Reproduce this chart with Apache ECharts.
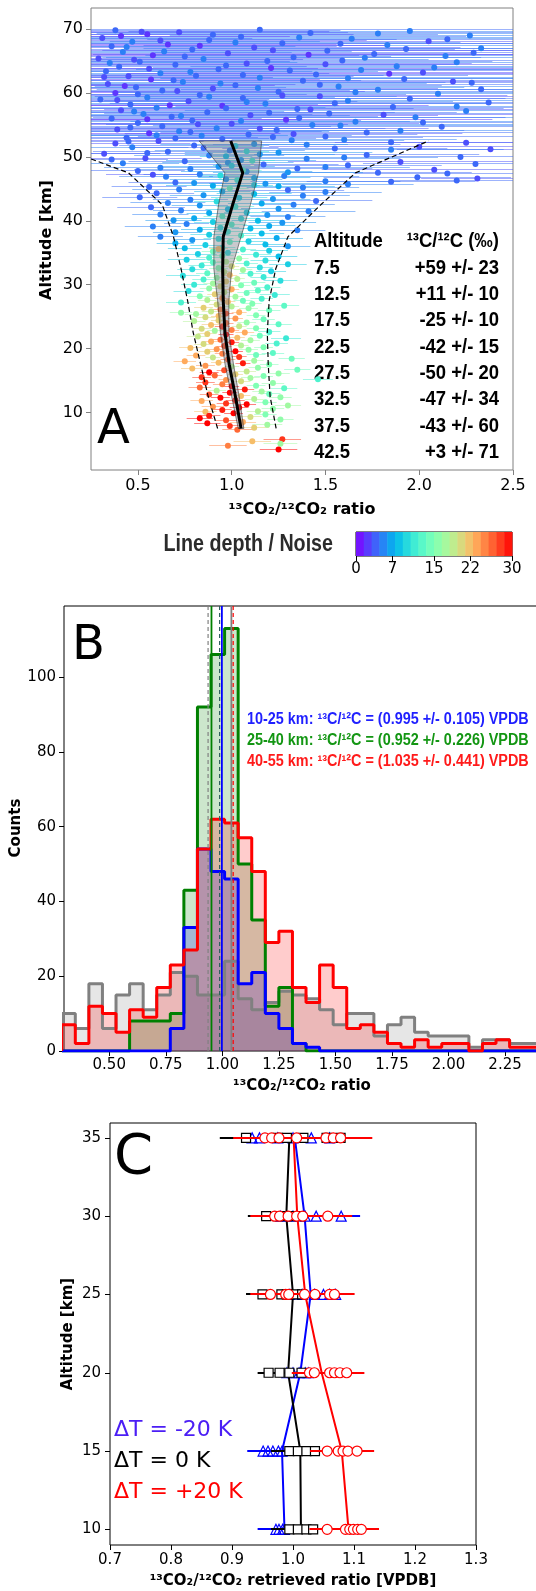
<!DOCTYPE html>
<html>
<head>
<meta charset="utf-8">
<script src="https://cdn.jsdelivr.net/npm/echarts@6.0.0/dist/echarts.min.js"></script>
<style>
  html, body { margin: 0; padding: 0; background: #fff; }
  #chart { width: 536px; height: 1591px; }
</style>
</head>
<body>
<div id="chart"></div>
<script>
// ---------- panel A : retrievals, rows are [altitude km, ratio, error, line depth / noise]
var obsA = [
  [69.8,0.38,1.2,4],[69.7,1.95,1.5,5],[69.5,0.72,0.9,3],[69.4,1.42,1.3,4],[69.2,0.55,1.1,2],[69.0,2.27,1.6,5],
  [68.8,1.05,1.2,4],[68.6,0.31,0.8,3],[68.5,1.64,1.4,5],[68.3,0.88,1.0,4],[68.1,2.05,1.7,3],[68.0,0.47,1.0,5],
  [67.8,1.27,1.5,4],[67.6,0.66,0.9,2],[67.5,1.83,1.3,5],[67.3,0.36,1.2,4],[67.1,1.12,1.1,3],[67.0,2.33,1.8,5],
  [66.8,0.79,1.4,4],[66.6,1.51,1.2,4],[66.4,0.42,0.9,5],[66.2,0.98,1.3,3],[66.1,1.76,1.5,4],[65.9,0.58,1.1,2],
  [65.8,2.14,1.6,5],[65.6,1.33,1.0,4],[65.4,0.29,1.3,3],[65.3,0.85,1.2,5],[65.1,1.59,1.4,4],[64.9,0.51,0.8,4],
  [64.8,2.2,1.7,5],[64.6,1.08,1.2,3],[64.4,0.7,1.5,4],[64.2,1.88,1.1,5],[64.1,0.4,1.0,4],[63.9,1.21,1.3,2],
  [63.7,0.93,1.6,4],[63.6,1.69,1.2,5],[63.4,0.33,1.1,4],[63.2,2.02,1.4,3],[63.1,0.62,0.9,5],[62.9,1.45,1.3,4],
  [62.7,0.81,1.0,4],[62.6,0.45,1.2,3],[62.4,1.15,1.5,5],[62.2,1.92,1.3,4],[62.1,0.57,0.9,2],[61.9,1.38,1.2,4],
  [61.7,0.74,1.4,5],[61.6,2.28,1.7,4],[61.4,0.34,1.0,3],[61.2,1.02,1.1,4],[61.0,1.57,1.3,5],[60.9,0.49,0.8,4],
  [60.7,0.9,1.2,3],[60.5,1.78,1.5,5],[60.4,0.63,1.0,4],[60.2,1.25,1.3,4],[60.0,0.38,0.9,2],[59.9,2.1,1.6,5],
  [59.7,0.83,1.1,4],[59.5,1.47,1.2,3],[59.3,0.55,1.0,5],[59.2,1.06,1.4,4],[59.0,0.3,0.9,4],[58.8,1.62,1.3,5],
  [58.7,0.77,0.9,3],[58.5,2.37,1.6,4],[58.3,1.18,1.2,5],[58.2,0.46,1.0,4],[58.0,0.95,1.1,2],[57.8,1.86,1.4,4],
  [57.7,0.6,0.9,5],[57.5,1.35,1.1,4],[57.3,0.41,0.8,3],[57.2,2.25,1.5,5],[57.0,0.87,1.0,4],[56.8,1.52,1.2,4],
  [56.7,0.53,0.9,5],[56.5,1.1,1.0,3],[56.3,0.68,1.1,4],[56.2,1.98,1.3,5],[56.0,0.36,0.8,4],[55.8,1.29,1.1,2],
  [55.7,0.79,0.9,4],[55.5,1.66,1.2,5],[55.3,0.5,0.8,4],[55.2,1.0,1.0,3],[55.0,1.43,1.1,5],[54.8,0.63,0.9,4],
  [54.7,2.12,1.3,4],[54.5,0.92,0.9,5],[54.3,0.39,0.7,3],[54.2,1.24,1.0,4],[54.0,0.72,0.8,5],[53.8,1.72,1.1,4],
  [53.7,0.56,0.7,2],[53.5,1.09,0.9,4],[53.3,0.84,0.8,5],[53.2,1.5,1.0,4],[53.0,0.44,0.7,4],
  [69.9,1.15,1.4,4],[69.6,0.52,1.0,3],[69.3,1.78,1.5,5],[69.1,0.9,1.2,4],[68.9,0.41,0.9,2],[68.7,1.36,1.3,5],
  [68.4,2.15,1.6,4],[68.2,0.62,1.1,3],[67.9,1.02,1.2,5],[67.7,1.58,1.4,4],[67.4,0.83,1.0,2],[67.2,0.44,0.9,5],
  [66.9,1.93,1.5,4],[66.7,1.22,1.3,3],[66.5,0.64,1.0,5],[66.3,2.29,1.7,4],[66.0,1.41,1.3,2],[65.7,0.75,1.1,4],
  [65.5,1.71,1.4,5],[65.2,0.48,0.9,3],[65.0,1.19,1.2,4],[64.7,0.35,1.0,5],[64.5,1.5,1.3,3],[64.3,0.97,1.1,4],
  [64.0,2.08,1.5,5],[63.8,0.56,0.9,3],[63.5,1.31,1.2,4],[63.3,0.78,1.0,5],[63.0,1.84,1.4,2],[62.8,1.06,1.2,4],
  [62.5,0.32,0.9,3],[62.3,1.62,1.3,5],[62.0,0.69,1.0,4],[61.8,2.18,1.5,3],[61.5,0.94,1.1,5],[61.3,1.47,1.3,4],
  [61.1,0.43,0.8,2],[60.8,1.14,1.1,5],[60.6,2.33,1.6,4],[60.3,0.71,1.0,3],[60.1,1.66,1.3,5],[59.8,0.5,0.9,4],
  [59.6,1.27,1.2,3],[59.4,0.88,1.0,5],[59.1,1.95,1.4,4],[58.9,0.39,0.8,3],[58.6,1.08,1.1,5],[58.4,1.55,1.2,4],
  [58.1,0.67,0.9,2],[57.9,2.2,1.5,5],[57.6,0.97,1.0,4],[57.4,1.42,1.1,3],[57.1,0.48,0.8,5],[56.9,1.2,1.0,4],
  [56.6,1.81,1.3,3],[56.4,0.73,0.9,5],[56.1,1.36,1.1,4],[55.9,0.55,0.8,2],[55.6,1.05,0.9,5],[55.4,2.02,1.2,4],
  [55.1,0.82,0.8,3],[54.9,1.58,1.0,5],[54.6,0.46,0.7,4],[54.4,1.15,0.9,3],[54.1,1.9,1.1,5],[53.9,0.78,0.7,4],
  [53.6,1.33,0.9,3],[53.4,0.6,0.7,5],[53.1,1.22,0.8,4],
  [52.8,0.95,0.5,4],[52.6,1.32,0.6,5],[52.5,0.61,0.4,3],[52.3,1.85,0.7,4],[52.1,0.38,0.4,3],[52.0,1.12,0.5,6],
  [51.8,0.8,0.4,4],[51.6,2.0,0.8,3],[51.5,0.47,0.3,5],[51.3,1.55,0.6,4],[51.2,2.38,0.5,3],[51.0,0.99,0.4,5],
  [50.8,0.66,0.4,4],[50.7,1.25,0.5,6],[50.5,0.32,0.3,3],[50.3,1.72,0.6,4],[50.2,0.88,0.4,5],[50.0,2.22,0.5,4],
  [49.8,0.54,0.3,3],[49.7,1.4,0.5,5],[49.5,1.05,0.4,6],[49.3,0.75,0.3,4],[49.2,1.9,0.6,3],[49.0,0.42,0.3,5],
  [48.8,1.17,0.4,4],[48.7,1.62,0.5,4],[48.5,0.93,0.3,6],[48.3,0.62,0.3,5],[48.2,1.35,0.4,4],[48.0,2.08,0.6,3],
  [47.8,0.5,0.25,4],[47.7,1.08,0.35,6],[47.5,1.78,0.5,4],[47.3,0.83,0.3,5],[47.2,0.58,0.25,3],[47.0,1.28,0.4,5],
  [46.8,1.99,0.5,4],[46.6,2.31,0.3,3],[46.5,0.97,0.3,6],[46.3,2.2,0.35,4],[46.2,1.5,0.4,5],[46.0,0.7,0.25,4],
  [45.8,1.18,0.3,6],[45.7,1.62,0.35,5],[45.5,0.9,0.25,7],[45.3,0.56,0.2,4],[45.2,1.38,0.3,5],
  [52.9,0.7,0.5,4],[52.7,1.6,0.6,5],[52.4,0.45,0.4,4],[52.2,2.25,0.7,3],[51.9,1.4,0.5,5],[51.4,0.85,0.4,4],
  [51.1,1.85,0.6,5],[50.6,0.55,0.35,4],[50.4,1.15,0.4,6],[49.9,1.6,0.5,5],[49.6,0.36,0.3,4],[49.1,0.98,0.35,6],
  [48.9,2.3,0.6,4],[48.4,1.5,0.45,5],[48.1,0.78,0.3,5],[47.6,1.3,0.4,6],[47.4,2.15,0.5,4],[46.9,0.65,0.25,5],
  [46.7,1.12,0.3,7],[46.1,1.85,0.45,4],[45.9,0.8,0.25,6],[45.4,1.25,0.3,7],
  [51.7,1.02,0.15,9],[50.9,1.08,0.12,10],[50.1,0.97,0.14,8],[49.4,1.11,0.12,11],[48.6,1.0,0.1,9],
  [47.9,1.06,0.1,12],[47.1,0.94,0.12,10],[46.4,1.03,0.1,11],[45.6,1.12,0.1,9],[45.1,0.99,0.1,13],
  [44.9,0.72,0.25,5],[44.8,1.3,0.3,4],[44.6,0.95,0.15,7],[44.5,1.5,0.3,5],[44.3,0.6,0.2,4],[44.2,1.12,0.2,8],
  [44.0,0.85,0.18,6],[43.9,1.38,0.25,5],[43.7,0.51,0.2,4],[43.6,1.04,0.15,9],[43.4,1.22,0.2,6],[43.3,0.78,0.2,5],
  [43.1,1.45,0.3,4],[43.0,0.92,0.12,10],[42.8,0.66,0.2,5],[42.7,1.16,0.18,7],[42.5,1.33,0.22,5],[42.4,0.83,0.15,6],
  [42.2,1.02,0.1,11],[42.1,0.57,0.18,4],[41.9,1.25,0.2,6],[41.8,0.98,0.12,8],[41.6,0.73,0.15,5],[41.5,1.41,0.25,5],
  [41.3,1.08,0.12,9],[41.2,0.88,0.12,7],[41.0,0.62,0.15,5],[40.9,1.19,0.15,6],[40.7,0.95,0.1,12],[40.6,1.3,0.2,5],
  [40.4,0.8,0.12,7],[40.3,1.05,0.1,10],[40.1,0.69,0.15,6],[40.0,1.14,0.14,8],[39.8,0.9,0.1,9],[39.7,1.27,0.18,6],
  [39.5,0.76,0.12,5],[39.4,1.0,0.08,12],[39.2,1.2,0.14,7],[39.1,0.58,0.15,5],[38.9,0.94,0.1,10],[38.8,1.1,0.1,8],
  [38.6,0.83,0.1,7],[38.5,1.35,0.15,5],[38.3,0.98,0.08,11],[38.2,0.7,0.12,6],[38.0,1.16,0.12,8],[37.8,0.88,0.1,9],
  [37.7,1.05,0.08,12],[37.5,0.62,0.12,5],[37.3,1.24,0.14,7],[37.2,0.93,0.08,10],[37.0,0.79,0.1,6],[36.8,1.09,0.09,9],
  [36.7,0.99,0.07,13],[36.5,0.7,0.1,7],[36.3,1.18,0.1,8],[36.2,0.86,0.08,9],[36.0,1.3,0.12,6],[35.8,0.95,0.07,11],
  [35.7,0.75,0.09,8],[35.6,0.93,0.05,22],[35.5,1.06,0.07,12],[35.3,1.2,0.1,9],[35.2,0.9,0.06,14],[35.0,0.98,0.06,10],
  [34.8,0.82,0.1,9],[34.7,1.13,0.08,11],[34.5,0.95,0.06,14],[34.4,1.25,0.1,8],[34.2,0.88,0.07,12],[34.1,1.04,0.05,16],
  [33.9,0.76,0.1,9],[33.8,1.18,0.08,10],[33.6,0.97,0.05,18],[33.5,0.9,0.06,13],[33.3,1.08,0.06,12],[33.2,1.3,0.1,9],
  [33.0,0.84,0.07,11],[32.9,1.0,0.04,20],[32.7,1.15,0.07,10],[32.6,0.93,0.05,15],[32.4,0.79,0.08,10],[32.3,1.06,0.05,17],
  [32.1,1.21,0.08,9],[32.0,0.96,0.04,19],[31.8,0.87,0.06,13],[31.7,1.1,0.06,12],[31.5,0.99,0.04,22],[31.4,0.74,0.09,10],
  [31.2,1.17,0.07,11],[31.1,0.92,0.05,16],[30.9,1.03,0.04,18],[30.8,0.85,0.06,12],[30.6,1.26,0.09,10],[30.5,0.97,0.04,21],
  [30.3,1.12,0.06,14],[30.2,0.9,0.05,17],[30.0,0.8,0.07,11],[29.9,1.05,0.05,15],[29.7,0.94,0.04,20],[29.6,1.19,0.07,12],
  [29.4,0.88,0.05,16],[29.3,1.0,0.04,23],[29.1,1.14,0.06,13],[29.0,0.77,0.08,10],[28.8,0.96,0.04,19],[28.7,1.08,0.05,14],
  [28.5,0.91,0.04,21],[28.4,1.23,0.08,11],[28.2,0.83,0.06,15],[28.1,1.02,0.04,17],[27.9,0.95,0.04,24],[27.8,1.16,0.06,12],
  [27.6,0.87,0.05,18],[27.5,1.06,0.05,14],[27.3,0.98,0.04,22],[27.2,0.73,0.08,12],[27.0,1.11,0.05,15],[26.9,0.92,0.04,20],
  [26.7,1.28,0.08,13],[26.6,1.0,0.04,18],[26.4,0.85,0.05,21],[26.3,1.09,0.05,16],[26.1,0.94,0.04,25],[26.0,1.2,0.06,14],
  [25.8,0.89,0.05,19],[25.7,1.04,0.04,23],[25.6,0.73,0.06,16],[25.5,0.97,0.04,27],[25.4,0.81,0.06,17],[25.2,1.13,0.05,15],
  [25.1,0.93,0.04,22],
  [24.9,0.86,0.05,20],[24.7,1.02,0.04,24],[24.6,1.17,0.06,14],[24.4,0.93,0.04,21],[24.3,0.8,0.06,18],[24.1,1.08,0.05,16],
  [24.0,0.97,0.04,26],[23.8,1.25,0.07,13],[23.7,0.89,0.05,22],[23.5,1.04,0.04,19],[23.4,0.95,0.04,28],[23.2,1.13,0.05,15],
  [23.1,0.84,0.05,20],[22.9,1.0,0.04,25],[22.8,0.91,0.04,17],[22.6,1.2,0.06,12],[22.5,1.07,0.05,23],[22.3,0.87,0.05,21],
  [22.2,0.97,0.04,30],[22.0,1.15,0.05,14],[21.9,0.82,0.06,19],[21.7,1.03,0.04,22],[21.6,1.29,0.08,11],[21.4,0.94,0.04,26],
  [21.3,1.1,0.05,17],[21.1,0.89,0.05,23],[21.0,1.0,0.04,29],[20.8,1.24,0.06,12],[20.7,0.85,0.05,20],[20.5,1.05,0.04,18],
  [20.4,0.96,0.04,27],[20.2,1.17,0.05,15],[20.1,0.78,0.06,22],[19.9,0.92,0.04,24],[19.8,1.09,0.05,16],[19.6,1.02,0.04,30],
  [19.5,0.87,0.05,21],[19.3,1.22,0.06,13],[19.2,0.95,0.04,25],[19.0,1.13,0.05,14],[18.9,0.81,0.05,23],[18.7,1.04,0.04,28],
  [18.6,0.9,0.04,19],[18.4,1.32,0.07,14],[18.3,0.98,0.04,26],[18.1,1.12,0.05,17],[18.0,0.75,0.06,23],[17.8,0.93,0.04,22],
  [17.7,1.06,0.04,29],[17.5,1.2,0.05,15],[17.3,0.86,0.05,24],[17.2,1.0,0.04,18],[17.0,1.14,0.05,16],[16.9,0.79,0.06,22],
  [16.7,1.35,0.07,14],[16.6,0.96,0.04,27],[16.4,1.08,0.05,19],[16.3,0.88,0.05,30],[16.1,1.25,0.06,16],[16.0,1.02,0.04,21],
  [15.8,0.91,0.04,26],[15.7,1.17,0.05,15],[15.5,0.84,0.05,28],[15.4,1.1,0.05,17],[15.2,1.46,0.08,12],[15.1,0.97,0.04,24],
  [14.9,1.05,0.05,20],[14.7,0.86,0.05,28],[14.6,1.22,0.06,16],[14.4,0.95,0.05,25],[14.2,1.13,0.05,15],[14.1,1.0,0.04,30],
  [13.9,0.83,0.06,26],[13.8,1.28,0.07,13],[13.6,1.07,0.05,29],[13.4,0.92,0.05,18],[13.3,1.16,0.05,17],[13.1,0.99,0.04,30],
  [12.9,1.2,0.06,14],[12.8,0.88,0.05,27],[12.6,1.05,0.05,22],[12.4,1.26,0.06,16],[12.3,0.94,0.05,30],[12.1,1.12,0.05,18],
  [11.9,1.02,0.05,29],[11.8,0.84,0.06,23],[11.6,1.18,0.06,15],[11.4,0.97,0.05,28],[11.3,1.08,0.05,30],[11.1,1.3,0.07,17],
  [10.9,0.9,0.06,24],[10.8,1.04,0.05,30],[10.6,1.22,0.06,16],[10.4,0.95,0.05,29],[10.2,1.14,0.06,18],[10.1,0.86,0.06,22],
  [9.9,1.01,0.05,30],[9.7,1.18,0.06,15],[9.5,0.88,0.06,29],[9.3,1.1,0.06,20],[9.1,0.83,0.07,30],[8.9,1.26,0.07,16],
  [8.8,0.97,0.06,27],[8.5,1.06,0.07,23],[8.3,0.87,0.07,30],[8.1,1.19,0.08,17],[7.9,0.99,0.07,28],[7.6,1.12,0.08,21],
  [7.3,1.03,0.08,26],[5.8,1.27,0.1,28],[5.5,1.11,0.1,22],[5.1,1.26,0.09,17],[4.8,0.98,0.1,25],[4.2,1.25,0.1,30]
];

// mean profile, its spread band and the dashed envelope
var altProfA   = [7.5, 12.5, 17.5, 22.5, 27.5, 32.5, 37.5, 42.5, 47.5, 52.5];
var ratioProfA = [1.05, 1.02, 0.987, 0.964, 0.955, 0.952, 0.955, 1.005, 1.059, 0.995];
var bandLoA    = [1.035, 1.0, 0.965, 0.94, 0.925, 0.905, 0.905, 0.93, 0.964, 0.827];
var bandHiA    = [1.065, 1.04, 1.01, 0.985, 0.985, 1.0, 1.05, 1.1, 1.143, 1.16];
var dashLoA    = [0.925, 0.875, 0.835, 0.795, 0.765, 0.73, 0.69, 0.63, 0.45, -0.01];
var dashHiA    = [1.237, 1.205, 1.195, 1.19, 1.2, 1.235, 1.3, 1.475, 1.66, 2.05];

var tableAlt   = ['7.5', '12.5', '17.5', '22.5', '27.5', '32.5', '37.5', '42.5'];
var tableDelta = ['+59 +/- 23', '+11 +/- 10', '-25 +/- 10', '-42 +/- 15', '-50 +/- 20', '-47 +/- 34', '-43 +/- 60', '+3 +/- 71'];

var ticksXA = [0.5, 1.0, 1.5, 2.0, 2.5];
var ticksYA = [10, 20, 30, 40, 50, 60, 70];
var cbarTicks = [0, 7, 15, 22, 30];
var cbarLevels = [0, 1.5, 3, 4.5, 6, 7.5, 9, 10.5, 12, 13.5, 15, 16.5, 18, 19.5, 21, 22.5, 24, 25.5, 27, 28.5];

// ---------- panel B : histograms
var binsB = [0.29,0.35,0.41,0.47,0.53,0.59,0.65,0.71,0.77,0.83,0.89,0.95,1.01,1.07,1.13,1.19,1.25,1.31,1.37,
             1.43,1.49,1.55,1.61,1.67,1.73,1.79,1.85,1.91,1.97,2.03,2.09,2.15,2.21,2.27,2.33,2.39,2.45];
var countsGray  = [10,6,18,6,15,18,11,15,21,20,15,15,24,14,11,13,16,15,14,11,7,10,10,4,7,9,5,4,4,4,1,3,3,2,2,2];
var countsGreen = [0,0,0,0,0,8,8,8,10,43,92,106,113,50,35,12,17,2,0,0,0,0,0,0,0,0,0,0,0,0,0,0,0,0,0,0];
var countsBlue  = [0,0,0,0,0,0,0,0,6,33,54,48,46,18,21,10,6,2,1,0,0,0,0,0,0,0,0,0,0,0,0,0,0,0,0,0];
var countsRed   = [7,2,12,10,5,11,9,17,23,27,54,62,61,57,48,29,32,17,13,23,17,6,7,5,2,1,3,1,2,2,0,2,3,1,1,1];
var vlineValsB  = [0.937, 0.952, 0.988, 0.998, 1.040, 1.048];
var ticksXB = [0.5, 0.75, 1.0, 1.25, 1.5, 1.75, 2.0, 2.25];
var ticksYB = [0, 20, 40, 60, 80, 100];
var labelsB = [
  '10-25 km: \u00b9\u00b3C/\u00b9\u00b2C = (0.995 +/- 0.105) VPDB',
  '25-40 km: \u00b9\u00b3C/\u00b9\u00b2C = (0.952 +/- 0.226) VPDB',
  '40-55 km: \u00b9\u00b3C/\u00b9\u00b2C = (1.035 +/- 0.441) VPDB'
];

// ---------- panel C : temperature sensitivity, rows are [altitude km, ratio, error]
var minusC = [
  [10,0.972,0.03],[10,0.977,0.03],[10,0.983,0.03],[10,0.986,0.03],
  [15,0.951,0.026],[15,0.959,0.026],[15,0.967,0.026],[15,0.976,0.026],[15,0.982,0.026],
  [20,0.99,0.03],[20,1.0,0.03],[20,1.01,0.03],[20,1.02,0.03],[20,1.025,0.03],
  [25,0.995,0.03],[25,1.015,0.03],[25,1.035,0.03],[25,1.05,0.03],[25,1.06,0.03],[25,1.07,0.03],
  [30,0.98,0.031],[30,1.0,0.031],[30,1.02,0.031],[30,1.038,0.031],[30,1.079,0.031],
  [35,0.933,0.03],[35,0.945,0.03],[35,0.975,0.03],[35,1.0,0.03],[35,1.03,0.03],[35,1.06,0.03]
];
var zeroC = [
  [10,0.994,0.03],[10,1.008,0.03],[10,1.022,0.03],[10,1.033,0.03],
  [15,0.994,0.03],[15,1.008,0.03],[15,1.022,0.03],[15,1.036,0.03],
  [20,0.960,0.018],[20,0.978,0.018],[20,0.994,0.018],[20,1.014,0.018],
  [25,0.95,0.027],[25,0.981,0.027],[25,0.99,0.027],[25,1.003,0.027],[25,1.015,0.027],
  [30,0.956,0.03],[30,0.975,0.03],[30,0.99,0.03],[30,1.0,0.03],[30,1.012,0.03],
  [35,0.923,0.043],[35,0.975,0.043],[35,0.99,0.043],[35,1.017,0.043],[35,1.055,0.043],[35,1.078,0.043]
];
var plusC = [
  [10,1.056,0.029],[10,1.086,0.029],[10,1.093,0.029],[10,1.099,0.029],[10,1.106,0.029],[10,1.112,0.029],
  [15,1.056,0.028],[15,1.074,0.028],[15,1.082,0.028],[15,1.09,0.028],[15,1.105,0.028],
  [20,1.027,0.029],[20,1.035,0.029],[20,1.06,0.029],[20,1.068,0.029],[20,1.077,0.029],[20,1.088,0.029],
  [25,0.963,0.033],[25,0.988,0.033],[25,0.993,0.033],[25,1.019,0.033],[25,1.036,0.033],[25,1.06,0.033],[25,1.068,0.033],
  [30,0.97,0.04],[30,0.978,0.04],[30,0.992,0.04],[30,1.006,0.04],[30,1.016,0.04],[30,1.057,0.04],
  [35,0.954,0.052],[35,0.965,0.052],[35,0.977,0.052],[35,1.006,0.052],[35,1.054,0.052],[35,1.066,0.052],[35,1.078,0.052]
];
var altC = [10, 15, 20, 25, 30, 35];
var meanMinusC = [0.986, 0.982, 1.012, 1.029, 1.019, 1.003];
var meanZeroC  = [1.013, 1.012, 0.992, 1.0, 0.989, 0.994];
var meanPlusC  = [1.091, 1.08, 1.047, 1.02, 1.007, 1.001];
var ticksXC = [0.7, 0.8, 0.9, 1.0, 1.1, 1.2, 1.3];
var ticksYC = [10, 15, 20, 25, 30, 35];

// ---------- helpers
var FONT = '"DejaVu Sans", sans-serif';
var ARIAL = '"Liberation Sans", Arial, sans-serif';

// matplotlib "rainbow" colormap
function rainbow(t) {
  var r = Math.min(1, Math.abs(2 * t - 0.5));
  var g = Math.sin(Math.PI * t);
  var b = Math.cos(Math.PI * t / 2);
  return 'rgb(' + Math.round(r * 255) + ',' + Math.round(g * 255) + ',' + Math.round(b * 255) + ')';
}
var rainbowStops = [];
for (var k = 0; k <= 16; k++) rainbowStops.push(rainbow(k / 16));

function axis(gridIndex, min, max, ticks, digits, spine, fontSize, margin) {
  return {
    type: 'value', gridIndex: gridIndex, min: min, max: max,
    axisLine: { show: false },
    splitLine: { show: false },
    axisTick: { show: true, inside: false, length: 5, lineStyle: { color: spine, width: 1 }, customValues: ticks },
    axisLabel: {
      show: true, customValues: ticks, margin: margin, color: '#000', fontSize: fontSize, fontFamily: FONT,
      formatter: function (v) { return digits == null ? String(v) : Number(v).toFixed(digits); }
    }
  };
}

// horizontal error bar, clipped to the grid and snapped to the pixel grid
function errBars(color, opacity, width) {
  return function (params, api) {
    var alt = api.value(0), r = api.value(1), e = api.value(2);
    var p1 = api.coord([r - e, alt]);
    var p2 = api.coord([r + e, alt]);
    var cs = params.coordSys;
    var x1 = Math.max(p1[0], cs.x), x2 = Math.min(p2[0], cs.x + cs.width);
    if (x2 <= x1) return;
    var y = width % 2 ? Math.round(p1[1] - 0.5) + 0.5 : Math.round(p1[1]);
    return {
      type: 'line',
      shape: { x1: x1, y1: y, x2: x2, y2: y },
      style: { stroke: color || api.visual('color'), lineWidth: width, opacity: opacity }
    };
  };
}

function histData(counts) {
  var n = counts.length;
  var d = [[binsB[0], 0]];
  for (var i = 0; i < n; i++) d.push([binsB[i], counts[i]]);
  d.push([binsB[n], counts[n - 1]]);
  d.push([binsB[n], 0]);
  return d;
}

function pairs(xs, ys) {
  return ys.map(function (y, i) { return [xs[i], y]; });
}

function txt(x, y, text, font, color, align, rot, sx) {
  return {
    type: 'text', x: x, y: y, rotation: rot || 0, scaleX: sx || 1, silent: true,
    style: {
      text: text, font: font, fill: color || '#000',
      align: align || 'left', textAlign: align || 'left',
      verticalAlign: 'middle', textVerticalAlign: 'middle'
    }
  };
}

// ---------- chart
var chart = echarts.init(document.getElementById('chart'), null, { renderer: 'canvas' });

var grids = [
  { left: 91, top: 8, width: 422, height: 462, show: true, borderColor: '#808080', borderWidth: 1, containLabel: false, outerBoundsMode: 'none' },
  { left: 356, top: 532, width: 156, height: 24, show: true, borderColor: '#000', borderWidth: 1, containLabel: false, outerBoundsMode: 'none' },
  { left: 64, top: 606, width: 475, height: 445, show: true, borderColor: '#000', borderWidth: 1, containLabel: false, outerBoundsMode: 'none' },
  { left: 110, top: 1123, width: 366, height: 422, show: true, borderColor: '#000', borderWidth: 1, containLabel: false, outerBoundsMode: 'none' }
];

var cbY = axis(1, 0, 1, [0, 1], null, '#000', 15, 8);
cbY.show = false;

var xAxes = [
  axis(0, 0.25, 2.5, ticksXA, 1, '#808080', 16, 8),
  axis(1, 0, 30, cbarTicks, null, '#000', 15, 6),
  axis(2, 0.3, 2.4, ticksXB, 2, '#000', 15, 7),
  axis(3, 0.7, 1.3, ticksXC, 1, '#000', 15, 8)
];
var yAxes = [
  axis(0, 1, 73.3, ticksYA, null, '#808080', 16, 8),
  cbY,
  axis(2, 0, 119, ticksYB, null, '#000', 15, 8),
  axis(3, 9, 35.95, ticksYC, null, '#000', 15, 9)
];

var series = [];

// A: error bars and points (coloured by visualMap)
series.push({ type: 'custom', xAxisIndex: 0, yAxisIndex: 0, data: obsA, encode: { x: 1, y: 0 },
  renderItem: errBars(null, 0.5, 1), z: 2 });
series.push({ type: 'scatter', xAxisIndex: 0, yAxisIndex: 0, data: obsA, encode: { x: 1, y: 0 },
  symbolSize: 6, itemStyle: { opacity: 1 }, z: 3 });
// A: spread band
series.push({ type: 'custom', xAxisIndex: 0, yAxisIndex: 0, data: [[0]], z: 4,
  renderItem: function (params, api) {
    var pts = [];
    for (var i = 0; i < altProfA.length; i++) pts.push(api.coord([bandLoA[i], altProfA[i]]));
    for (var j = altProfA.length - 1; j >= 0; j--) pts.push(api.coord([bandHiA[j], altProfA[j]]));
    return { type: 'polygon', shape: { points: pts },
      style: { fill: 'rgba(120,120,130,0.4)', stroke: 'rgba(40,40,40,0.7)', lineWidth: 0.8 } };
  } });
series.push({ type: 'line', xAxisIndex: 0, yAxisIndex: 0, data: pairs(ratioProfA, altProfA), symbol: 'none',
  lineStyle: { color: '#000', width: 3 }, z: 5 });
series.push({ type: 'line', xAxisIndex: 0, yAxisIndex: 0, data: pairs(dashLoA, altProfA), symbol: 'none',
  lineStyle: { color: '#000', width: 1.2, type: [5, 3] }, z: 5 });
series.push({ type: 'line', xAxisIndex: 0, yAxisIndex: 0, data: pairs(dashHiA, altProfA), symbol: 'none',
  lineStyle: { color: '#000', width: 1.2, type: [5, 3] }, z: 5 });

// colourbar
series.push({ type: 'custom', xAxisIndex: 1, yAxisIndex: 1, data: cbarLevels.map(function (v) { return [v]; }),
  renderItem: function (params, api) {
    var v = api.value(0);
    var p0 = api.coord([v, 0]);
    var p1 = api.coord([Math.min(v + 1.5, 30), 1]);
    return { type: 'rect', shape: { x: p0[0], y: p1[1], width: p1[0] - p0[0] + 0.5, height: p0[1] - p1[1] },
      style: { fill: rainbow((v + 0.75) / 30) } };
  } });

// B: histograms
var histSpecs = [
  { counts: countsGray, color: '#808080' },
  { counts: countsGreen, color: '#008000' },
  { counts: countsBlue, color: '#0000ff' },
  { counts: countsRed, color: '#ff0000' }
];
histSpecs.forEach(function (h) {
  series.push({ type: 'line', xAxisIndex: 2, yAxisIndex: 2, data: histData(h.counts), step: 'end', symbol: 'none',
    lineStyle: { color: h.color, width: 3 }, areaStyle: { color: h.color, opacity: 0.2 }, z: 3 });
});
var vlineStyles = [
  { color: '#808080', type: [4, 3], width: 1.2 },
  { color: '#008000', type: 'solid', width: 1.8 },
  { color: '#2f5f5f', type: [4, 3], width: 1.2 },
  { color: '#0000ff', type: 'solid', width: 1.8 },
  { color: '#808080', type: 'solid', width: 1.8 },
  { color: '#ff0000', type: [4, 3], width: 1.2 }
];
vlineValsB.forEach(function (x, i) {
  series.push({ type: 'line', xAxisIndex: 2, yAxisIndex: 2, data: [[x, 0], [x, 119]], symbol: 'none',
    lineStyle: vlineStyles[i], z: 4 });
});

// C: three temperature offsets
var cSpecs = [
  { rows: minusC, mean: meanMinusC, color: '#0000ff', symbol: 'triangle', fill: 'rgba(0,0,0,0)', size: 10 },
  { rows: zeroC, mean: meanZeroC, color: '#000000', symbol: 'rect', fill: '#ffffff', size: 9 },
  { rows: plusC, mean: meanPlusC, color: '#ff0000', symbol: 'circle', fill: '#ffffff', size: 10 }
];
cSpecs.forEach(function (s, i) {
  series.push({ type: 'custom', xAxisIndex: 3, yAxisIndex: 3, data: s.rows, encode: { x: 1, y: 0 },
    renderItem: errBars(s.color, 1, 2), z: 2 + i * 3 });
  series.push({ type: 'line', xAxisIndex: 3, yAxisIndex: 3, data: pairs(s.mean, altC), symbol: 'none',
    lineStyle: { color: s.color, width: 2 }, z: 3 + i * 3 });
  series.push({ type: 'scatter', xAxisIndex: 3, yAxisIndex: 3, data: s.rows, encode: { x: 1, y: 0 },
    symbol: s.symbol, symbolSize: s.size,
    itemStyle: { color: s.fill, borderColor: s.color, borderWidth: 1.2, opacity: 1 }, z: 4 + i * 3 });
});

// texts
var g = [];
// panel A
g.push(txt(47, 240, 'Altitude [km]', 'bold 16px ' + FONT, '#000', 'center', Math.PI / 2));
g.push(txt(302, 510, '\u00b9\u00b3CO\u2082/\u00b9\u00b2CO\u2082 ratio', 'bold 16px ' + FONT, '#000', 'center'));
g.push(txt(97, 431, 'A', '48px ' + FONT, '#000', 'left'));
g.push(txt(314, 241, 'Altitude', 'bold 21px ' + ARIAL, '#000', 'left', 0, 0.88));
g.push(txt(499, 241, '\u00b9\u00b3C/\u00b9\u00b2C (\u2030)', 'bold 21px ' + ARIAL, '#000', 'right', 0, 0.88));
tableAlt.forEach(function (a, i) {
  var y = 268 + i * 26.3;
  g.push(txt(314, y, a, 'bold 21px ' + ARIAL, '#000', 'left', 0, 0.88));
  g.push(txt(499, y, tableDelta[i], 'bold 21px ' + ARIAL, '#000', 'right', 0, 0.88));
});
g.push(txt(333, 544, 'Line depth / Noise', 'bold 24px ' + ARIAL, '#2b2b2b', 'right', 0, 0.82));
// panel B
g.push(txt(16, 828, 'Counts', 'bold 15px ' + FONT, '#000', 'center', Math.PI / 2));
g.push(txt(302, 1086, '\u00b9\u00b3CO\u2082/\u00b9\u00b2CO\u2082 ratio', 'bold 15px ' + FONT, '#000', 'center'));
g.push(txt(72, 647, 'B', '48px ' + FONT, '#000', 'left'));
var bColors = ['#1f1fff', '#139613', '#ff1a1a'];
labelsB.forEach(function (t, i) {
  g.push(txt(247, 720 + i * 20.8, t, 'bold 16px ' + ARIAL, bColors[i], 'left', 0, 0.9));
});
// panel C
g.push(txt(68, 1334, 'Altitude [km]', 'bold 15px ' + FONT, '#000', 'center', Math.PI / 2));
g.push(txt(293, 1581, '\u00b9\u00b3CO\u2082/\u00b9\u00b2CO\u2082 retrieved ratio [VPDB]', 'bold 15px ' + FONT, '#000', 'center'));
g.push(txt(114, 1158, 'C', '56px ' + FONT, '#000', 'left'));
g.push(txt(114, 1430, '\u0394T = -20 K', '22px ' + FONT, '#4b1ef5', 'left'));
g.push(txt(114, 1461, '\u0394T = 0 K', '22px ' + FONT, '#000', 'left'));
g.push(txt(114, 1492, '\u0394T = +20 K', '22px ' + FONT, '#ff0000', 'left'));

chart.setOption({
  animation: false,
  backgroundColor: '#fff',
  grid: grids,
  xAxis: xAxes,
  yAxis: yAxes,
  visualMap: {
    type: 'continuous', show: false, seriesIndex: [0, 1], dimension: 3, min: 0, max: 30,
    inRange: { color: rainbowStops }
  },
  series: series,
  graphic: { elements: g }
});
</script>
</body>
</html>
